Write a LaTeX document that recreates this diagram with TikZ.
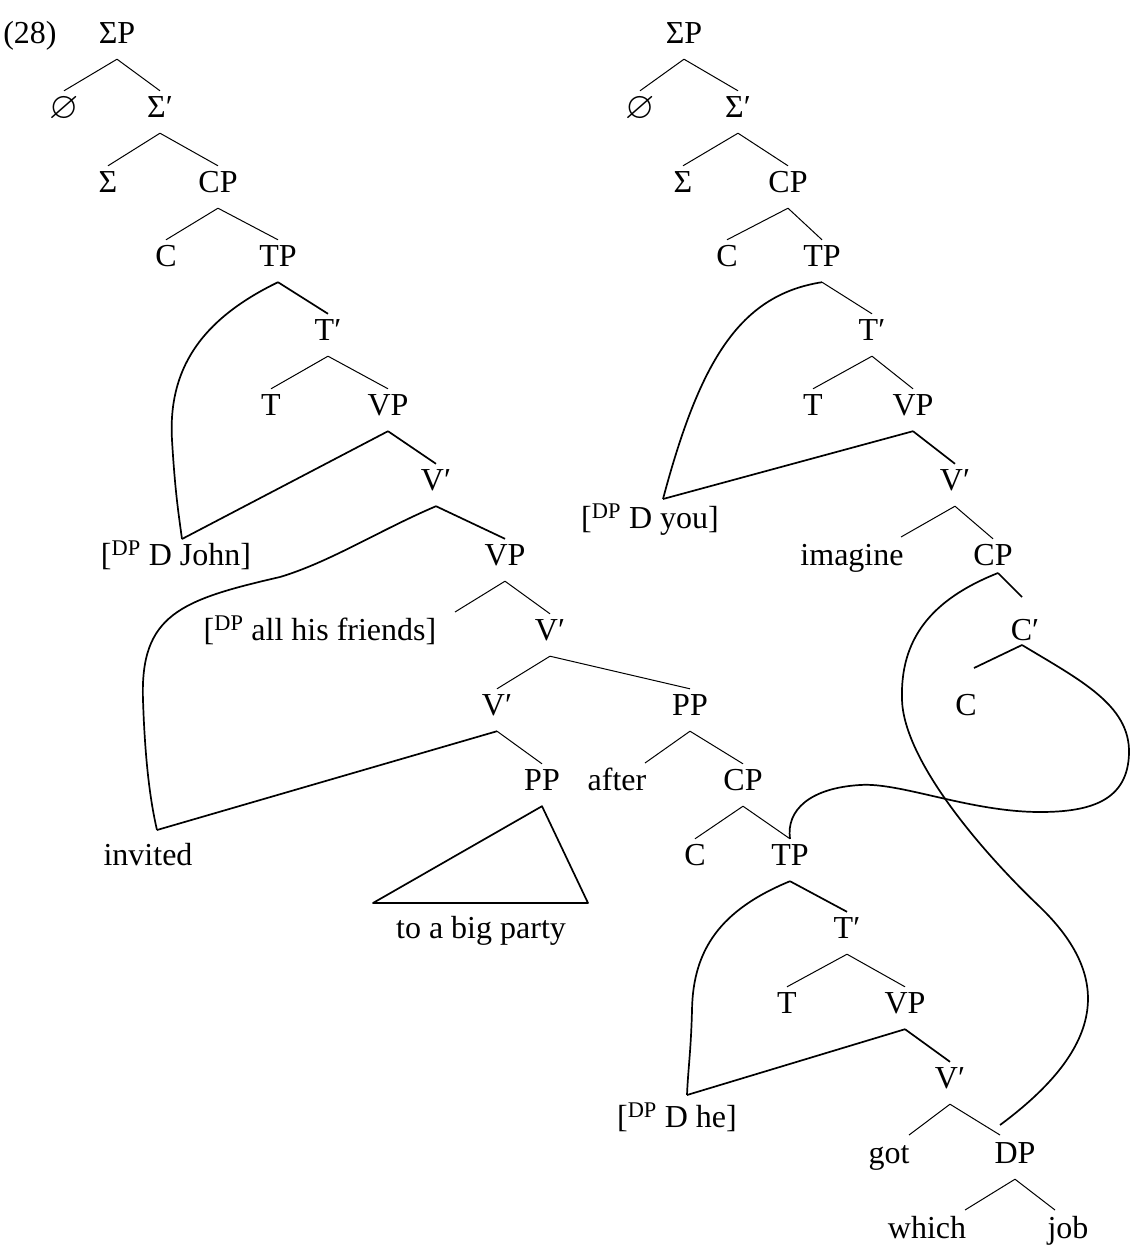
\documentclass[tikz,border=0pt]{standalone}
\usepackage{amssymb}
\usepackage{fontspec}
\setmainfont{Liberation Serif}
\usetikzlibrary{calc}
\newcommand{\myempty}{\raisebox{-0.04em}{\scalebox{1.18}{$\varnothing$}}}
\begin{document}
\begin{tikzpicture}[x=1pt,y=-1pt,
  lbl/.style={anchor=base, font=\fontsize{32}{38}\selectfont, text height=20pt, text depth=10pt, inner xsep=2pt, inner ysep=6pt},
  br/.style={line width=1pt},
  brk/.style={line width=1.7pt, line join=round},
  mv/.style={line width=1.7pt, line join=round}]
\useasboundingbox (0,0) rectangle (1134,1258);
% ---------- left tree ----------
\node[lbl] (n28) at (30,43) {(28)};
\node[lbl] (a1) at (117,43) {ΣP};
\node[lbl] (a2l) at (64,117) {\myempty};
\node[lbl] (a2r) at (160,117) {Σ′};
\node[lbl] (a3l) at (108,192) {Σ};
\node[lbl] (a3r) at (218,192) {CP};
\node[lbl] (a4l) at (166,266) {C};
\node[lbl] (a4r) at (278,266) {TP};
\node[lbl] (a5) at (328,340) {T′};
\node[lbl] (a6l) at (271,415) {T};
\node[lbl] (a6r) at (388,415) {VP};
\node[lbl] (a7) at (436,490) {V′};
\node[lbl] (john) at (176,565) {[\textsuperscript{DP} D John]};
\node[lbl] (vp2) at (505,565) {VP};
\node[lbl] (fr) at (320,640) {[\textsuperscript{DP} all his friends]};
\node[lbl] (v2) at (550,640) {V′};
\node[lbl] (v3) at (497,715) {V′};
\node[lbl] (pp1) at (690,715) {PP};
\node[lbl] (pp2) at (542,790) {PP};
\node[lbl] (after) at (617,790) {after};
\node[lbl] (cp2) at (743,790) {CP};
\node[lbl] (inv) at (148,865) {invited};
\node[lbl] (c2) at (695,865) {C};
\node[lbl] (tp2) at (790,865) {TP};
\node[lbl] (party) at (481,938) {to a big party};
\node[lbl] (t2p) at (847,938) {T′};
\node[lbl] (t2) at (787,1013) {T};
\node[lbl] (vp3) at (905,1013) {VP};
\node[lbl] (he) at (677,1127) {[\textsuperscript{DP} D he]};
\node[lbl] (v4) at (950,1088) {V′};
\node[lbl] (got) at (889,1163) {got};
\node[lbl] (dp) at (1015,1163) {DP};
\node[lbl] (which) at (927,1238) {which};
\node[lbl] (job) at (1068,1238) {job};
% ---------- right tree ----------
\node[lbl] (b1) at (684,43) {ΣP};
\node[lbl] (b2l) at (640,117) {\myempty};
\node[lbl] (b2r) at (738,117) {Σ′};
\node[lbl] (b3l) at (683,192) {Σ};
\node[lbl] (b3r) at (788,192) {CP};
\node[lbl] (b4l) at (727,266) {C};
\node[lbl] (b4r) at (822,266) {TP};
\node[lbl] (b5) at (872,340) {T′};
\node[lbl] (b6l) at (813,415) {T};
\node[lbl] (b6r) at (913,415) {VP};
\node[lbl] (b7) at (955,490) {V′};
\node[lbl] (you) at (650,528) {[\textsuperscript{DP} D you]};
\node[lbl] (imag) at (852,565) {imagine};
\node[lbl] (b8) at (993,565) {CP};
\node[lbl] (b9) at (1025,640) {C′};
\node[lbl] (b10) at (966,715) {C};
% ---------- named points ----------
\coordinate (johnTop) at (182,539);
\coordinate (invTop) at (157,830);
\coordinate (youTop) at (663,499);
\coordinate (heTop) at (687,1095);
\coordinate (dpEnd) at (1000,1125);
\coordinate (b8a) at (998,573);
\coordinate (b9t) at (1022,597);
\coordinate (b9a) at (1022,645);
\coordinate (b10t) at (974,668);
\coordinate (triL) at (373,903);
\coordinate (triR) at (588,903);
\coordinate (frT) at (455,612);
\coordinate (imagT) at (901,537);
\coordinate (afterT) at (645,763);
\coordinate (gotT) at (909,1135);
\coordinate (dpT) at (1000,1135);
\coordinate (whichT) at (965,1210);
\coordinate (jobT) at (1055,1210);
% ---------- thin branches ----------
\foreach \p/\c in {a1/a2l,a1/a2r,a2r/a3l,a2r/a3r,a3r/a4l,a3r/a4r,a5/a6l,a5/a6r,
  vp2/v2,v2/v3,v2/pp1,v3/pp2,pp1/cp2,cp2/c2,cp2/tp2,
  t2p/t2,t2p/vp3,
  b1/b2l,b1/b2r,b2r/b3l,b2r/b3r,b3r/b4l,b3r/b4r,b4r/b5,b5/b6l,b5/b6r,
  b7/b8}
  \draw[br] (\p.south) -- (\c.north);
\draw[br] (vp2.south) -- (frT);
\draw[br] (pp1.south) -- (afterT);
\draw[br] (v4.south) -- (gotT);
\draw[br] (v4.south) -- (dpT);
\draw[br] (dp.south) -- (whichT);
\draw[br] (dp.south) -- (jobT);
\draw[br] (b7.south) -- (imagT);
% ---------- thick branches ----------
\foreach \p/\c in {a4r/a5,a6r/a7,a7/vp2,tp2/t2p,vp3/v4,b6r/b7}
  \draw[brk] (\p.south) -- (\c.north);
\draw[brk] (b8a) -- (b9t);
\draw[brk] (b9a) -- (b10t);
% triangle
\draw[brk] (pp2.south) -- (triL) -- (triR) -- cycle;
% ---------- movement lines ----------
\draw[mv] (a6r.south) -- (johnTop);
\draw[mv] (a4r.south) .. controls (200,320) and (168,370) .. (172,440)
                      .. controls (175,490) and (178,510) .. (johnTop);
\draw[mv] (v3.south) -- (invTop);
\draw[mv] (a7.south) .. controls (380,530) and (330,562) .. (280,577)
                     .. controls (180,600) and (140,615) .. (143,700)
                     .. controls (145,760) and (150,800) .. (invTop);
\draw[mv] (b6r.south) -- (youTop);
\draw[mv] (b4r.south) .. controls (740,295) and (700,360) .. (youTop);
\draw[mv] (b8a) .. controls (930,600) and (900,640) .. (902,700)
                .. controls (904,760) and (980,850) .. (1040,907)
                .. controls (1105,970) and (1115,1040) .. (dpEnd);
\draw[mv] (b9a) .. controls (1080,680) and (1130,705) .. (1129,753)
                .. controls (1128,801) and (1090,812) .. (1040,812)
                .. controls (970,812) and (900,782) .. (860,785)
                .. controls (810,788) and (786,810) .. (tp2.north);
\draw[mv] (vp3.south) -- (heTop);
\draw[mv] (tp2.south) .. controls (720,910) and (693,950) .. (692,1010)
                      .. controls (691,1050) and (688,1070) .. (heTop);
\end{tikzpicture}
\end{document}
